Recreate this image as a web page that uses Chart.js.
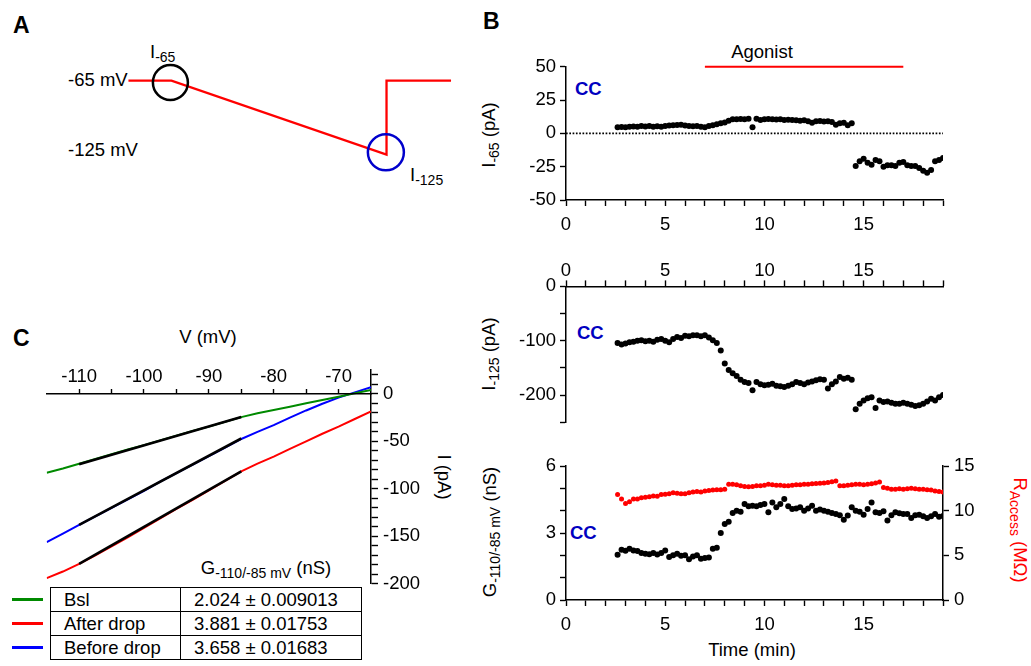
<!DOCTYPE html>
<html><head><meta charset="utf-8">
<script src="https://cdn.jsdelivr.net/npm/chart.js@4.4.1/dist/chart.umd.min.js"></script>
<style>
body{margin:0;background:#fff;width:1031px;height:666px;overflow:hidden;position:relative;font-family:"Liberation Sans",Arial,sans-serif;color:#000}
canvas{position:absolute}
.t{position:absolute;white-space:nowrap;font-size:18.5px;line-height:1}
.b{font-weight:bold}
.c{transform:translate(-50%,-50%)}
.rl{transform:translate(-50%,-50%) rotate(-90deg)}
.rr{transform:translate(-50%,-50%) rotate(90deg)}
.s{font-size:14px;position:relative;top:4px}
.cc{color:#0000c0;font-weight:bold}
table{position:absolute;border-collapse:collapse;font-size:18.5px}
td{border:1.5px solid #000;padding:0 0 0 13px;height:23px;line-height:23px;white-space:nowrap}
.sw{position:absolute;left:12px;width:31px;height:3px}
</style></head><body>

<div class="t b" style="left:13px;top:14px;font-size:23px">A</div>
<div class="t b" style="left:483px;top:10px;font-size:23px">B</div>
<div class="t b" style="left:13px;top:327px;font-size:23px">C</div>

<div class="t" style="left:68px;top:71px">-65 mV</div>
<div class="t" style="left:68px;top:141px">-125 mV</div>
<div class="t" style="left:150px;top:43px">I<span class="s">-65</span></div>
<div class="t" style="left:410px;top:166px">I<span class="s">-125</span></div>

<div class="t c" style="left:762px;top:52px">Agonist</div>
<div class="t cc" style="left:575px;top:80px">CC</div>
<div class="t cc" style="left:577px;top:324px">CC</div>
<div class="t cc" style="left:570px;top:524px">CC</div>
<div class="t rl" style="left:489px;top:135px">I<span class="s">-65</span> (pA)</div>
<div class="t rl" style="left:489px;top:354px">I<span class="s">-125</span> (pA)</div>
<div class="t rl" style="left:490px;top:532px">G<span class="s">-110/-85 mV</span> (nS)</div>
<div class="t rr" style="left:1020px;top:530px;color:#f00">R<span class="s">Access</span> (MΩ)</div>
<div class="t c" style="left:752px;top:650px">Time (min)</div>

<div class="t c" style="left:208px;top:337px">V (mV)</div>
<div class="t rr" style="left:444px;top:477px">I (pA)</div>
<div class="t c" style="left:266px;top:568px">G<span class="s">-110/-85 mV</span> (nS)</div>

<div class="sw" style="top:597.5px;background:#008a00"></div>
<div class="sw" style="top:622px;background:#f00"></div>
<div class="sw" style="top:646px;background:#00f"></div>
<table style="left:50px;top:587px">
<tr><td style="width:116px">Bsl</td><td style="width:167px">2.024 ± 0.009013</td></tr>
<tr><td>After drop</td><td>3.881 ± 0.01753</td></tr>
<tr><td>Before drop</td><td>3.658 ± 0.01683</td></tr>
</table>

<script>
// ---------- Panel A: voltage protocol ----------
const PROTO_T = [0, 200, 1200, 1200, 1500];
const PROTO_V = [-65, -65, -125, -65, -65];
const MARK_I65 = [195, -66.5];
const MARK_I125 = [1197, -123.2];

// ---------- Panel B: time course ----------
const T = [2.6,2.8,3.0,3.2,3.4,3.6,3.8,4.0,4.2,4.4,
4.6,4.8,5.0,5.2,5.4,5.6,5.8,6.0,6.2,6.4,
6.6,6.8,7.0,7.2,7.4,7.6,7.8,8.0,8.2,8.4,
8.6,8.8,9.0,9.2,9.4,9.6,9.8,10.0,10.2,10.4,
10.6,10.8,11.0,11.2,11.4,11.6,11.8,12.0,12.2,12.4,
12.6,12.8,13.0,13.2,13.4,13.6,13.8,14.0,14.2,14.4,
14.6,14.8,15.0,15.2,15.4,15.6,15.8,16.0,16.2,16.4,
16.6,16.8,17.0,17.2,17.4,17.6,17.8,18.0,18.2,18.4,
18.6,18.8,19.0];
const I65 = [4.5,4.8,4.6,5.0,5.2,5.0,5.6,5.2,5.5,5.0,
5.3,5.0,5.6,5.9,6.0,6.2,6.5,5.8,5.5,5.3,
5.5,5.0,4.5,5.5,6.0,6.8,7.5,8.2,9.5,10.5,
10.5,10.8,10.5,11.0,4.5,11.0,10.0,10.5,10.8,10.5,
10.3,10.5,10.0,10.2,10.0,9.8,9.5,9.8,9.0,8.0,
9.0,9.2,8.8,9.0,8.5,6.5,7.5,8.0,6.0,7.5,
-24.5,-21,-19,-22,-23.5,-20,-21,-25,-24,-24,
-24.5,-22,-21.5,-24,-24.5,-24.5,-26,-28,-29.5,-27.5,
-21,-20,-18.5];
const I125 = [-104,-107,-105,-103,-102,-100,-99,-101,-100,-102,
-98,-97,-100,-103,-97,-93,-95,-91,-92,-90,
-90,-92,-90,-94,-99,-104,-118,-142,-154,-160,
-165,-172,-176,-178,-191,-176,-180,-182,-181,-179,
-183,-184,-185,-183,-180,-176,-178,-180,-177,-175,
-173,-171,-172,-188,-180,-175,-167,-170,-168,-172,
-226,-216,-210,-206,-204,-224,-210,-213,-212,-214,
-216,-216,-214,-216,-218,-220,-219,-216,-212,-207,
-210,-204,-200];
const G = [2.03,2.25,2.2,2.3,2.22,2.19,2.1,2.07,2.05,2.1,
2.04,2.1,2.22,1.93,2.0,2.07,1.98,2.0,1.82,1.95,
2.0,1.85,1.88,1.9,2.3,2.34,3.0,3.4,3.5,3.9,
4.0,3.95,4.3,4.2,4.22,4.2,4.25,4.3,3.93,4.37,
4.15,4.3,4.52,4.2,4.07,4.1,4.15,4.0,4.1,4.22,
4.0,4.05,4.0,3.95,3.9,3.85,3.8,3.59,3.78,4.15,
4.0,3.95,3.82,4.07,4.37,3.93,3.9,3.97,3.56,3.8,
3.93,3.88,3.85,3.85,3.67,3.8,3.82,3.75,3.67,3.75,
3.85,3.73,3.76];
const RACC = [11.8,11.3,10.8,11.0,11.3,11.3,11.45,11.5,11.55,11.65,
11.6,11.8,11.85,11.9,12.0,11.95,11.9,11.9,12.0,12.1,
12.15,12.1,12.2,12.25,12.3,12.33,12.35,12.4,12.95,12.95,
12.9,12.8,12.7,12.67,12.7,12.78,12.8,12.85,12.96,12.9,
12.85,12.85,12.8,12.78,12.85,12.9,12.9,12.95,12.96,13.0,
13.05,13.07,13.1,13.15,13.25,13.33,12.78,12.8,12.85,12.9,
12.95,12.96,12.9,12.96,13.0,13.1,13.2,12.6,12.5,12.4,
12.4,12.45,12.4,12.45,12.5,12.45,12.4,12.4,12.35,12.3,
12.2,12.15,12.1];
const AGONIST = [7, 17];
const TIME_TICKS = [0,1,2,3,4,5,6,7,8,9,10,11,12,13,14,15,16,17,18,19];
const TIME_LABELS = [0,5,10,15];
const I65_TICKS = [-50,-25,0,25,50];
const I125_TICKS = [0,-50,-100,-150,-200,-250];
const I125_LABELS = [0,-100,-200];
const G_TICKS = [0,1,2,3,4,5,6];
const G_LABELS = [0,3,6];
const R_TICKS = [0,5,10,15];

// ---------- Panel C: I-V ramps ----------
const V = [-115,-112.5,-110,-107.5,-105,-102.5,-100,-97.5,-95,-92.5,-90,-87.5,-85,-82.5,-80,-77.5,-75,-72.5,-70,-67.5,-65];
const BSL = [-83,-78.5,-73.5,-68.5,-63.5,-58.5,-54,-49,-44,-39,-34.5,-29.5,-24.5,-20.5,-17,-13.5,-10,-6.5,-3,0.5,4];
const BEFORE = [-156,-147,-138,-129,-120,-111,-102,-92.5,-83.5,-74.5,-65.5,-56.5,-47.5,-40,-33,-25,-17.5,-10.5,-4,1.5,7];
const AFTER = [-194,-187,-179,-170,-160.5,-151,-141,-131,-121,-111.5,-101.5,-91.5,-81.5,-73.5,-66,-58,-50,-42,-34.5,-26.5,-18.5];
const FIT_V = [-110,-85];
const FIT_BSL = [-74,-24.5];
const FIT_BEFORE = [-138,-47];
const FIT_AFTER = [-179,-81.5];
const V_TICKS = [-110,-105,-100,-95,-90,-85,-80,-75,-70];
const V_LABELS = [-110,-100,-90,-80,-70];
const I_TICKS = [20,10,0,-10,-20,-30,-40,-50,-60,-70,-80,-90,-100,-110,-120,-130,-140,-150,-160,-170,-180,-190,-200];
const I_LABELS = [0,-50,-100,-150,-200];

Chart.defaults.font.family = '"Liberation Sans", Arial, sans-serif';
Chart.defaults.font.size = 18.5;
Chart.defaults.color = '#000';

function mk(l, t, w, h, cfg) {
  const c = document.createElement('canvas');
  c.width = w; c.height = h;
  c.style.cssText = 'left:' + l + 'px;top:' + t + 'px;width:' + w + 'px;height:' + h + 'px';
  document.body.appendChild(c);
  cfg.options = Object.assign({responsive:false, animation:false, events:[], devicePixelRatio:1,
    plugins:{legend:{display:false}, tooltip:{enabled:false}}}, cfg.options);
  return new Chart(c, cfg);
}
function sc(o) {
  return {
    type:'linear', position:o.pos, min:o.min, max:o.max, display:o.show !== false, axis:o.axis,
    afterBuildTicks: s => { s.ticks = o.ticks.map(v => ({value:v})); },
    afterFit: s => { if (o.size !== undefined) { if (s.isHorizontal()) s.height = o.size; else s.width = o.size; } },
    grid:{drawOnChartArea:false, drawTicks:true, tickLength:o.tl || 6, tickWidth:1.4, tickColor:'#000'},
    border:{display:true, color:'#000', width:1.5},
    ticks:{autoSkip:false, maxRotation:0, minRotation:0, padding:(o.pad === undefined ? 4 : o.pad), color:'#000',
      font:{size:18.5}, callback: v => ((o.labels || o.ticks).indexOf(v) >= 0 ? String(v) : '')}
  };
}
const pts = (xs, ys) => xs.map((x, i) => ({x:x, y:ys[i]}));
const dots = (data, col, r, extra) => Object.assign({data:data, showLine:false, pointRadius:r, backgroundColor:col, borderColor:col, borderWidth:0}, extra || {});
const line = (data, col, w, extra) => Object.assign({data:data, showLine:true, pointRadius:0, borderColor:col, borderWidth:w, tension:0, fill:false}, extra || {});

// Panel A (padding = point overflow so the plot area is 100..480 x 40..200)
mk(79.5, 19.5, 421, 201, {type:'scatter', data:{datasets:[
  dots([{x:MARK_I65[0], y:MARK_I65[1]}], 'rgba(0,0,0,0)', 17.5, {borderColor:'#000', borderWidth:2.5, hoverRadius:0, clip:false}),
  dots([{x:MARK_I125[0], y:MARK_I125[1]}], 'rgba(0,0,0,0)', 18, {borderColor:'#0000cc', borderWidth:2.5, hoverRadius:0, clip:false}),
  line(pts(PROTO_T, PROTO_V), '#f00', 2.3, {clip:false})
]}, options:{layout:{padding:20.5}, scales:{
  x:{type:'linear', display:false, min:-130, max:1637},
  y:{type:'linear', display:false, min:-162.3, max:-32.5}
}}});

// Panel B top
mk(480, 40, 500, 200, {type:'scatter', data:{datasets:[
  dots(pts(T, I65), '#000', 3),
  line(pts(AGONIST, [50, 50]), '#f00', 2, {clip:false}),
  line(pts([0, 19], [0, 0]), '#000', 1.7, {borderDash:[1.7, 1.6]})
]}, options:{layout:{padding:{left:0, top:26.7, right:37, bottom:0}}, scales:{
  x:sc({pos:'bottom', min:0, max:19, ticks:TIME_TICKS, labels:TIME_LABELS, size:40, pad:7.5}),
  y:sc({pos:'left', min:-50, max:50, ticks:I65_TICKS, size:86})
}}});

// Panel B middle
mk(480, 240, 500, 200, {type:'scatter', data:{datasets:[
  dots(pts(T, I125), '#000', 3)
]}, options:{layout:{padding:{left:0, top:0, right:37, bottom:17.8}}, scales:{
  x:sc({pos:'top', min:0, max:19, ticks:TIME_TICKS, labels:TIME_LABELS, size:46.4, pad:-1.5}),
  y:sc({pos:'left', min:-250, max:0, ticks:I125_TICKS, labels:I125_LABELS, size:86})
}}});

// Panel B bottom
mk(480, 440, 551, 226, {type:'scatter', data:{datasets:[
  dots(pts(T, G), '#000', 3, {yAxisID:'y'}),
  dots(pts(T, RACC), '#f00', 2.5, {yAxisID:'yR'})
]}, options:{layout:{padding:{left:0, top:26, right:0, bottom:0}}, scales:{
  x:sc({pos:'bottom', min:0, max:19, ticks:TIME_TICKS, labels:TIME_LABELS, size:66, pad:7.5}),
  y:sc({pos:'left', min:0, max:6, ticks:G_TICKS, labels:G_LABELS, size:86}),
  yR:sc({pos:'right', axis:'y', min:0, max:15, ticks:R_TICKS, size:88, pad:5})
}}});

// Panel C: curves and current axis
mk(0, 330, 460, 270, {type:'scatter', data:{datasets:[
  line(pts(FIT_V, FIT_BSL), '#000', 2.6),
  line(pts(FIT_V, FIT_BEFORE), '#000', 2.6),
  line(pts(FIT_V, FIT_AFTER), '#000', 2.6),
  line(pts(V, BSL), '#008a00', 2),
  line(pts(V, AFTER), '#f00', 2),
  line(pts(V, BEFORE), '#00f', 2)
]}, options:{layout:{padding:{left:46.7, top:40.06, right:0, bottom:14.5}}, scales:{
  x:{type:'linear', display:false, min:-115, max:-65},
  y:sc({pos:'right', min:-200, max:25, ticks:I_TICKS, labels:I_LABELS, size:89, tl:7, pad:5})
}}});

// Panel C: voltage axis crossing at I = 0
mk(0, 330, 460, 270, {type:'scatter', data:{datasets:[]},
 options:{layout:{padding:{left:46.7, top:0, right:89, bottom:0}}, scales:{
  x:sc({pos:'top', min:-115, max:-65, ticks:V_TICKS, labels:V_LABELS, size:64, tl:5, pad:1}),
  y:{type:'linear', display:false, min:-200, max:25}
}}});
</script>
</body></html>
